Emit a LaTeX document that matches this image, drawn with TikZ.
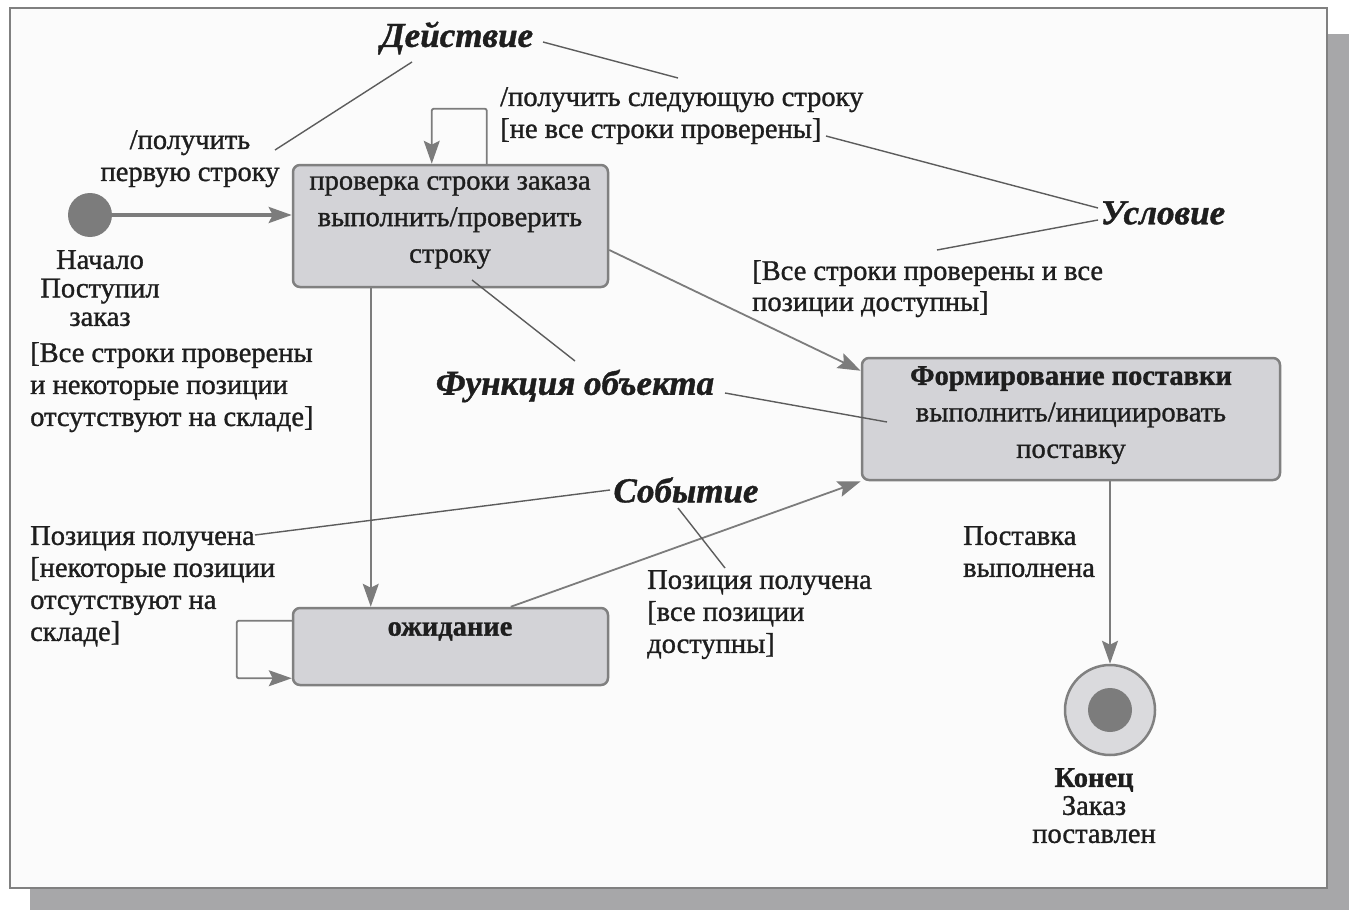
\documentclass[tikz,border=0pt]{standalone}
\usepackage{fontspec}
\setmainfont{Liberation Serif}[FakeBold=1.1]
\usetikzlibrary{arrows.meta,calc}
\definecolor{boxfill}{HTML}{D3D3D7}
\definecolor{boxdraw}{HTML}{808080}
\definecolor{arr}{HTML}{7C7C7C}
\definecolor{notec}{HTML}{5C5C5C}
\definecolor{shadowc}{HTML}{A7A7A9}
\definecolor{txtc}{HTML}{1E1E1E}
\definecolor{paper}{HTML}{FBFBFB}
\begin{document}
\begin{tikzpicture}[x=1pt,y=-1pt,
  statebox/.style={draw=boxdraw, line width=2.5pt, fill=boxfill, rounded corners=7pt, inner sep=0pt},
  trans/.style={draw=arr, line width=1.8pt, -{Stealth[length=23pt,width=16pt,inset=4pt]}},
  noteline/.style={draw=notec, line width=1.4pt},
  txt/.style={font=\fontsize{28.5}{32}\selectfont, text=txtc, inner sep=0pt, align=left},
  boxtxt/.style={font=\fontsize{28.5}{36.5}\selectfont, text=txtc, inner sep=0pt, align=center},
  head/.style={font=\fontsize{35}{40}\selectfont\bfseries\itshape, text=txtc, inner sep=0pt}
]
\useasboundingbox (0,0) rectangle (1354,923);
% frame and shadow
\fill[shadowc] (30,34) rectangle (1349,910);
\draw[draw=boxdraw, line width=2pt, fill=paper] (10,8) rectangle (1327,888);

% states
\node[circle, fill=arr, minimum size=44pt, inner sep=0pt] (init) at (90,215) {};
\node[statebox, minimum width=315pt, minimum height=122pt] (box1) at (450.5,226) {};
\node[statebox, minimum width=418pt, minimum height=122pt] (box2) at (1071,419) {};
\node[statebox, minimum width=315pt, minimum height=77pt] (box3) at (450.5,646.5) {};
\node[circle, draw=boxdraw, line width=2.5pt, fill=boxfill!85!white, minimum size=90pt, inner sep=0pt] (fin) at (1110,710) {};
\node[circle, fill=arr, minimum size=44pt, inner sep=0pt] (fincore) at (fin.center) {};

% box texts
\node[boxtxt, anchor=north] (t1) at (450,176) {проверка строки заказа\\выполнить/проверить\\строку};
\node[boxtxt, anchor=north] (t2) at (1071,366) {\bfseries Формирование поставки\\выполнить/инициировать\\поставку};
\node[boxtxt, anchor=north] (t3) at (450,622) {\bfseries ожидание};

% transitions
\draw[trans, line width=3.5pt] (init.east) -- (init.east -| box1.west);
\draw[trans] ($(box1.east)+(0,24)$) -- ($(box2.north west)+(0,14)$);
\draw[trans] ($(box1.south west)+(79,0)$) -- ($(box3.north west)+(79,0)$);
\draw[trans] ($(box3.north west)+(219,0)$) -- (box2.south west);
\draw[trans] (box2.south -| fin.north) -- (fin.north);
\draw[trans, rounded corners=2pt] ($(box1.north west)+(195,0)$) -- ++(0,-55) -| ($(box1.north west)+(140,0)$);
\draw[trans, rounded corners=2pt] ($(box3.north west)+(0,14)$) -- ++(-55,0) |- ($(box3.south west)+(0,-8)$);

% labels
\node[txt, align=center, anchor=north] (l1) at (190,130) {/получить\\первую строку};
\node[txt, anchor=north west] (l2) at (500,87) {/получить следующую строку\\{[}не все строки проверены{]}};
\node[txt, align=center, anchor=north, font=\fontsize{28.5}{28.5}\selectfont] (l3) at (100,250) {Начало\\Поступил\\заказ};
\node[txt, anchor=north west] (l4) at (30,342) {{[}Все строки проверены\\и некоторые позиции\\отсутствуют на складе{]}};
\node[txt, anchor=north west, font=\fontsize{28.5}{31}\selectfont] (l5) at (752,260) {{[}Все строки проверены и все\\позиции доступны{]}};
\node[txt, anchor=north west] (l6) at (30,526) {Позиция получена\\{[}некоторые позиции\\отсутствуют на\\складе{]}};
\node[txt, anchor=north west] (l7) at (647,570) {Позиция получена\\{[}все позиции\\доступны{]}};
\node[txt, anchor=north west] (l8) at (963,526) {Поставка\\выполнена};
\node[txt, align=center, anchor=north, font=\fontsize{28.5}{28}\selectfont] (l9) at (1094,768) {\textbf{Конец}\\Заказ\\поставлен};

% headings
\node[head] (hAct) at (457,38) {Действие};
\node[head] (hCond) at (1163,213) {Условие};
\node[head] (hFun) at (575,386) {Функция объекта};
\node[head] (hEv) at (686,490) {Событие};

% note lines
\coordinate (a0) at (412,62);
\coordinate (a1) at (275,150);
\coordinate (a3) at (543,42);
\coordinate (a2) at (678,78);
\coordinate (c0) at (1098,208);
\coordinate (c1) at (826,136);
\coordinate (c3) at (1098,220);
\coordinate (c2) at (937,250);
\coordinate (f0) at (575,361);
\coordinate (f1) at (472,280);
\coordinate (f3) at (725,393);
\coordinate (f2) at (887,422);
\coordinate (e0) at (610,490);
\coordinate (e1) at (255,535);
\coordinate (e3) at (678,508);
\coordinate (e2) at (725,568);
\draw[noteline] (a0) -- (a1);
\draw[noteline] (a3) -- (a2);
\draw[noteline] (c0) -- (c1);
\draw[noteline] (c3) -- (c2);
\draw[noteline] (f0) -- (f1);
\draw[noteline] (f3) -- (f2);
\draw[noteline] (e0) -- (e1);
\draw[noteline] (e3) -- (e2);
\end{tikzpicture}
\end{document}
